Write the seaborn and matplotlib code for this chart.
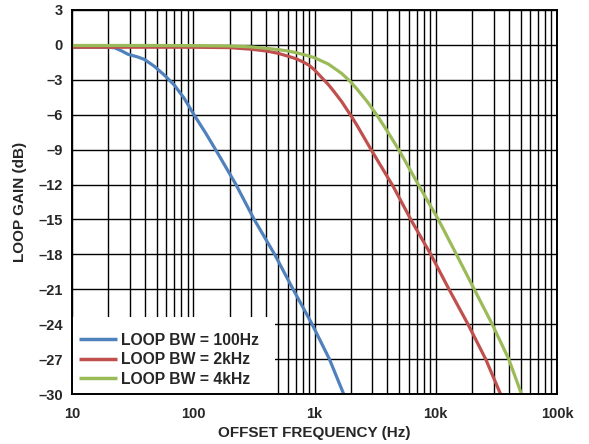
import matplotlib
matplotlib.use("Agg")
import matplotlib.pyplot as plt
from matplotlib.patches import Rectangle
import numpy as np
import pandas as pd
import seaborn as sns
from matplotlib.ticker import FixedLocator, LogLocator, NullFormatter

# ---- data ----
series_labels = ["LOOP BW = 100Hz", "LOOP BW = 2kHz", "LOOP BW = 4kHz"]
series_colors = ["#4F81BD", "#C0504D", "#9BBB59"]

bw100_freq = [10, 15, 20, 22.5, 25.5, 28.9, 34.9, 39.6, 47.9, 57.8, 69.8, 84.3,
              100, 127, 159, 225, 318, 469, 666, 955, 1327, 1740]
bw100_gain = [-0.2, -0.2, -0.2, -0.25, -0.5, -0.8, -1.04, -1.25, -1.85, -2.6,
              -3.45, -4.6, -5.9, -7.6, -9.3, -12.0, -15.0, -18.0, -21.0, -24.0,
              -27.0, -30.0]

bw2k_freq = [10, 50, 100, 197, 300, 400, 500, 600, 700, 800, 900, 1000, 1303,
             1446, 1675, 1983, 2223, 2979, 4478, 6300, 9100, 12860, 18430, 25800,
             34200]
bw2k_gain = [-0.2, -0.2, -0.2, -0.23, -0.37, -0.52, -0.72, -0.96, -1.18, -1.45,
             -1.74, -2.15, -3.42, -4.0, -4.87, -6.03, -6.85, -9.13, -12.2, -15.1,
             -18.0, -21.0, -24.0, -27.0, -30.0]

bw4k_freq = [10, 50, 100, 197, 300, 400, 500, 600, 700, 800, 900, 1000, 1303,
             1675, 1954, 2223, 2711, 3228, 3951, 5080, 7178, 10500, 14970, 21000,
             29200, 40000, 50900]
bw4k_gain = [-0.05, -0.05, -0.06, -0.09, -0.17, -0.29, -0.4, -0.52, -0.66, -0.81,
             -0.96, -1.1, -1.65, -2.45, -3.1, -3.75, -4.85, -5.95, -7.35, -9.2,
             -12.0, -15.0, -18.1, -21.1, -24.0, -27.0, -30.0]

y_ticks = [3, 0, -3, -6, -9, -12, -15, -18, -21, -24, -27, -30]
y_tick_labels = ["3", "0", "–3", "–6", "–9", "–12", "–15", "–18", "–21", "–24", "–27", "–30"]
x_ticks = [10, 100, 1000, 10000, 100000]
x_tick_labels = ["10", "100", "1k", "10k", "100k"]

df = pd.concat([
    pd.DataFrame({"freq": bw100_freq, "gain": bw100_gain, "series": series_labels[0]}),
    pd.DataFrame({"freq": bw2k_freq, "gain": bw2k_gain, "series": series_labels[1]}),
    pd.DataFrame({"freq": bw4k_freq, "gain": bw4k_gain, "series": series_labels[2]}),
], ignore_index=True)

sns.set_style("white")
plt.rcParams["font.family"] = ["Liberation Sans", "DejaVu Sans"]
plt.rcParams["font.weight"] = "bold"

fig = plt.figure(figsize=(5.89, 4.44), dpi=100)
ax = fig.add_axes([72 / 589, 1 - 394 / 444, (557 - 72) / 589, (394 - 10) / 444])
ax.set_xscale("log")

sns.lineplot(data=df, x="freq", y="gain", hue="series", hue_order=series_labels,
             palette=series_colors, estimator=None, sort=False, linewidth=2.3,
             ax=ax, zorder=3)
for ln in ax.get_lines():
    ln.set_solid_joinstyle("round")
    ln.set_solid_capstyle("butt")

ax.set_xlim(10, 100000)
ax.set_ylim(-30, 3)

ax.xaxis.set_major_locator(FixedLocator(x_ticks))
ax.set_xticklabels(x_tick_labels)
ax.xaxis.set_minor_locator(LogLocator(base=10, subs=np.arange(2, 10)))
ax.xaxis.set_minor_formatter(NullFormatter())
ax.yaxis.set_major_locator(FixedLocator(y_ticks))
ax.set_yticklabels(y_tick_labels)

ax.grid(which="both", axis="x", color="black", linewidth=1.0)
ax.grid(which="major", axis="y", color="black", linewidth=1.0)
ax.set_axisbelow(True)

for sp in ax.spines.values():
    sp.set_color("black")
    sp.set_linewidth(1.4)
    sp.set_zorder(6)

ax.tick_params(axis="both", which="both", length=0, labelsize=10.5)
ax.tick_params(axis="x", pad=9)
ax.tick_params(axis="y", pad=6.5)
for lbl in ax.get_xticklabels() + ax.get_yticklabels():
    lbl.set_fontweight("bold")

ax.set_xlabel("OFFSET FREQUENCY (Hz)", fontsize=11, fontweight="bold", labelpad=4)
ax.set_ylabel("LOOP GAIN (dB)", fontsize=11, fontweight="bold", labelpad=8)

# white legend box area (as in the reference, larger than the legend text)
ax.add_patch(Rectangle((0, 0), (275 - 72) / 485, (394 - 317) / 384,
                       transform=ax.transAxes, facecolor="white",
                       edgecolor="none", zorder=4))

handles, labels = ax.get_legend_handles_labels()
leg = ax.legend(handles, labels, loc="lower left", borderaxespad=0, frameon=False,
                prop={"size": 11.3, "weight": "bold"}, handlelength=2.4,
                handletextpad=0.25, labelspacing=0.3, borderpad=0.45)
for line in leg.get_lines():
    line.set_linewidth(2.5)
leg.set_zorder(5)

fig.savefig("out.png", dpi=100)
